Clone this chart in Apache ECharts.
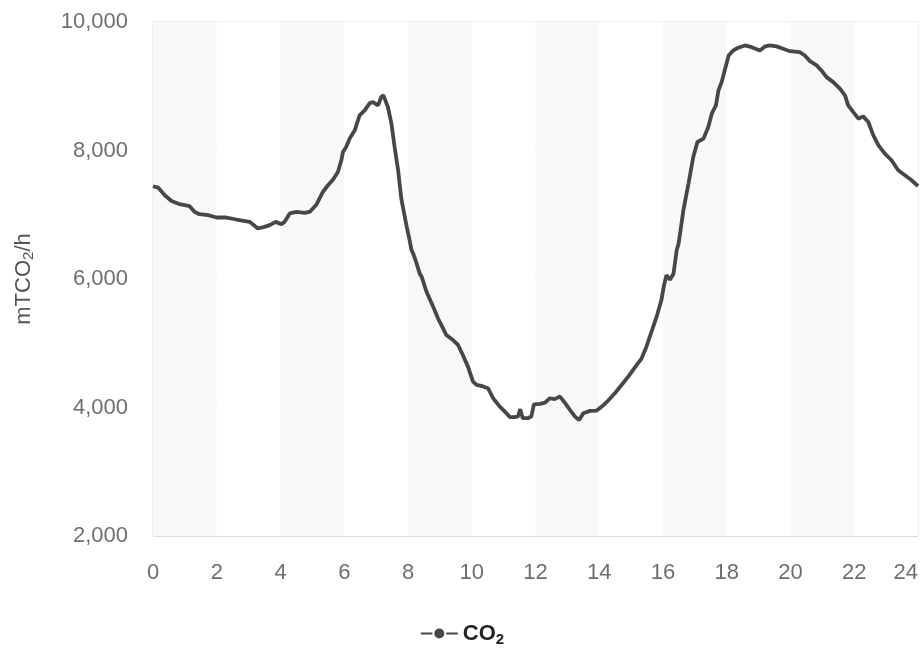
<!DOCTYPE html>
<html>
<head>
<meta charset="utf-8">
<script src="https://cdn.jsdelivr.net/npm/echarts@6/dist/echarts.min.js"></script>
<style>html,body{margin:0;padding:0;background:#fff}#c{width:924px;height:654px}</style>
</head>
<body>
<div id="c"></div>
<script>
var hours = [0.00,0.16,0.37,0.58,0.84,1.15,1.31,1.46,1.73,1.99,2.30,2.62,3.03,3.10,3.29,3.50,3.66,3.85,4.03,4.13,4.29,4.50,4.76,4.93,5.13,5.33,5.49,5.65,5.80,5.91,5.96,6.06,6.17,6.33,6.48,6.64,6.80,6.90,7.06,7.16,7.23,7.37,7.48,7.58,7.69,7.79,7.90,7.96,8.05,8.11,8.16,8.27,8.37,8.43,8.58,8.79,8.94,9.10,9.20,9.41,9.57,9.72,9.88,10.04,10.15,10.30,10.51,10.67,10.88,11.04,11.20,11.34,11.45,11.52,11.60,11.76,11.87,11.95,12.14,12.30,12.45,12.60,12.77,12.93,13.08,13.24,13.37,13.50,13.71,13.92,14.08,14.28,14.49,14.70,14.91,15.12,15.33,15.48,15.64,15.80,15.95,16.03,16.11,16.22,16.33,16.43,16.49,16.64,16.80,16.95,17.08,17.27,17.42,17.53,17.66,17.74,17.84,17.95,18.06,18.20,18.36,18.57,18.78,19.04,19.20,19.35,19.56,19.77,19.98,20.29,20.45,20.61,20.82,20.97,21.13,21.34,21.55,21.71,21.81,21.97,22.13,22.28,22.44,22.60,22.76,22.96,23.17,23.38,23.59,23.80,24.00];
var co2 = [7444,7423,7304,7215,7164,7133,7044,7008,6993,6957,6957,6926,6890,6864,6787,6811,6839,6889,6853,6890,7020,7044,7030,7050,7160,7355,7459,7548,7666,7848,7977,8055,8185,8314,8547,8625,8738,8754,8702,8832,8858,8676,8418,8055,7692,7250,6967,6812,6605,6449,6398,6242,6080,6034,5801,5568,5388,5232,5128,5050,4973,4817,4636,4403,4351,4336,4300,4144,4014,3936,3849,3849,3860,3974,3834,3834,3860,4050,4056,4076,4144,4130,4170,4067,3963,3858,3807,3911,3947,3952,4014,4108,4222,4351,4480,4626,4766,4947,5180,5413,5672,5900,6061,5990,6080,6450,6553,7071,7486,7900,8132,8185,8365,8573,8702,8936,9064,9273,9479,9557,9599,9635,9608,9557,9619,9635,9620,9583,9546,9531,9479,9391,9324,9246,9142,9064,8962,8858,8702,8598,8495,8531,8443,8236,8080,7952,7848,7692,7615,7537,7444];
var xTicks = {min: 0, max: 24, step: 2};
var yTicks = {min: 2000, max: 10000, step: 2000};
var seriesName = 'CO2';

var pts = hours.map(function (h, i) { return [h, co2[i]]; });
var font = 'Liberation Sans, Arial, sans-serif';
var chart = echarts.init(document.getElementById('c'));
chart.setOption({
  animation: false,
  backgroundColor: '#fff',
  grid: {left: 153, right: 6, top: 22, bottom: 118, show: true, borderColor: '#dddddd', borderWidth: 1,
    containLabel: false, outerBoundsMode: 'none'},
  legend: {
    bottom: 2, left: 'center',
    itemWidth: 37, itemHeight: 15, itemGap: 8,
    data: [seriesName],
    formatter: function () { return '{a|CO}{b|2}'; },
    textStyle: {
      fontFamily: font, color: '#222',
      rich: {
        a: {fontSize: 22, fontWeight: 'bold', fontFamily: font, color: '#222'},
        b: {fontSize: 15, fontWeight: 'bold', fontFamily: font, color: '#222', padding: [12, 0, 0, 0]}
      }
    }
  },
  xAxis: {
    type: 'value', min: xTicks.min, max: xTicks.max, interval: xTicks.step,
    axisLine: {show: false}, axisTick: {show: false},
    axisLabel: {color: '#6f6f6f', fontSize: 22, fontFamily: font, margin: 26, showMaxLabel: true, showMinLabel: true,
      alignMaxLabel: 'right'},
    splitLine: {show: false},
    splitArea: {show: true, areaStyle: {color: ['#f8f8f8', '#ffffff']}}
  },
  yAxis: {
    type: 'value', min: yTicks.min, max: yTicks.max, interval: yTicks.step,
    name: '{a|mTCO}{b|2}{a|/h}', nameLocation: 'middle', nameGap: 117, nameRotate: 90,
    nameTextStyle: {
      fontFamily: font, color: '#555',
      rich: {
        a: {fontSize: 22, fontFamily: font, color: '#555'},
        b: {fontSize: 15, fontFamily: font, color: '#555', padding: [10, 0, 0, 0]}
      }
    },
    axisLine: {show: false}, axisTick: {show: false},
    axisLabel: {color: '#6f6f6f', fontSize: 22, fontFamily: font, margin: 25,
      formatter: function (v) { return v.toLocaleString('en-US'); }},
    splitLine: {lineStyle: {color: '#dddddd', width: 1}}
  },
  series: [{
    name: seriesName, type: 'line', data: pts,
    showSymbol: false, symbol: 'circle', symbolSize: 15,
    itemStyle: {color: '#474747', borderColor: '#ffffff', borderWidth: 2},
    lineStyle: {color: '#474747', width: 3.8},
    smooth: false
  }]
});
</script>
</body>
</html>
